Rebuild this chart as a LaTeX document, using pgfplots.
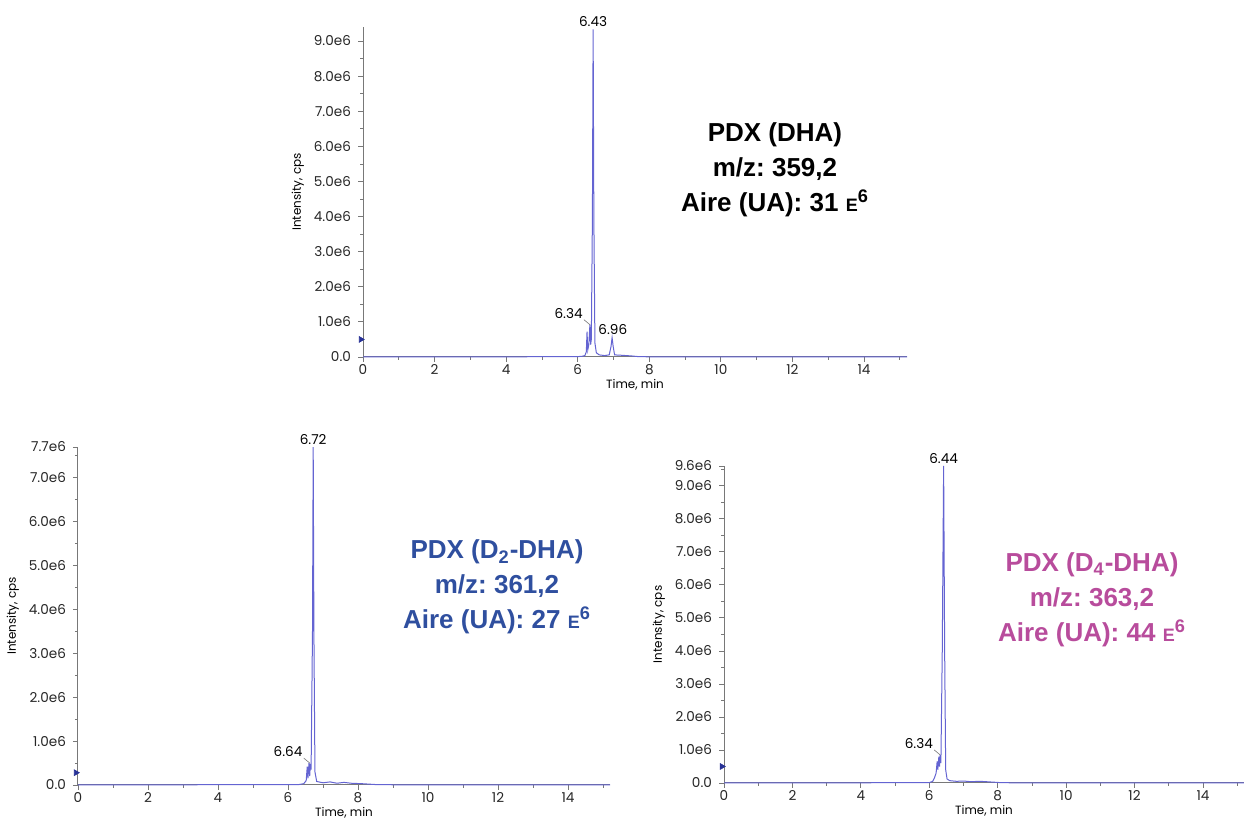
\documentclass[border=0pt]{standalone}
\usepackage{pgfplots}
\pgfplotsset{compat=1.18}
\usepackage{fontspec}
\setmainfont{Liberation Sans}
\newfontfamily\tickfont{Poppins}
\frenchspacing
\definecolor{trace}{RGB}{100,100,210}
\definecolor{axgray}{RGB}{120,120,120}
\definecolor{annblue}{RGB}{47,79,159}
\definecolor{annmag}{RGB}{184,76,156}
\definecolor{tri}{RGB}{40,50,150}

\pgfplotsset{chrom/.style={
  scale only axis, axis lines*=left, xmin=0, xmax=15.2, ymin=0,
  xtick={0,2,...,14}, minor xtick={1,3,...,15},
  tick align=outside, axis line style={axgray, line width=0.5pt},
  every tick/.style={axgray, line width=0.4pt}, major tick length=2.5pt, minor tick length=1.5pt,
  tick label style={font=\tickfont\fontsize{6.8}{8}\selectfont, black!85},
  xticklabel style={inner sep=1pt},
  /pgf/number format/assume math mode=true,
  xlabel style={font=\tickfont\fontsize{6}{7}\selectfont, at={(axis description cs:0.5,0)}, anchor=north, inner sep=0pt, yshift=-11pt},
  ylabel style={font=\tickfont\fontsize{6}{7}\selectfont, yshift=-2pt},
  xlabel={Time, min}, ylabel={Intensity, cps},
  clip=false,
}}
\newcommand{\pk}{\tickfont\fontsize{6.8}{8}\selectfont}

\begin{document}
\begin{tikzpicture}
\path[use as bounding box] (0pt,0pt) rectangle (622pt,411pt);

% ---------- top ----------
\begin{axis}[chrom, at={(181.5pt,232.5pt)}, anchor=south west, width=272pt, height=165pt,
  ymax=9.4, ytick={0,1,...,9}, minor ytick={0.5,1.5,...,9},
  yticklabels={0.0,1.0e6,2.0e6,3.0e6,4.0e6,5.0e6,6.0e6,7.0e6,8.0e6,9.0e6}]
\addplot[trace, line width=0.5pt] coordinates {
(0,0.005) (2,0.005) (4,0.006) (5.8,0.008) (6.1,0.015) (6.2,0.04) (6.24,0.15) (6.26,0.72) (6.28,0.2) (6.31,0.35) (6.34,0.92) (6.36,0.35) (6.38,0.5) (6.41,4.0) (6.43,9.33) (6.45,4.0) (6.48,0.4) (6.52,0.12) (6.6,0.06) (6.75,0.04) (6.88,0.06) (6.93,0.3) (6.96,0.55) (6.99,0.3) (7.03,0.06) (7.2,0.05) (7.35,0.04) (7.5,0.03) (7.7,0.01) (8,0.005) (10,0.005) (12,0.005) (15.2,0.005)};
\addplot[only marks, mark=triangle*, mark size=1.6pt, tri, mark options={rotate=-90}] coordinates {(-0.06,0.5)};
\node[anchor=south, inner sep=1pt, font=\pk] at (axis cs:6.43,9.33) {6.43};
\draw[axgray, line width=0.3pt] (axis cs:6.34,0.92) -- ++(-3pt,2.5pt) node[anchor=south east, inner sep=0.5pt, font=\pk, black] {6.34};
\node[anchor=south, inner sep=1.5pt, font=\pk] at (axis cs:6.98,0.55) {6.96};
\end{axis}
\node[align=center, font=\bfseries\fontsize{13}{17.5}\selectfont] at (387.5pt,326pt)
  {PDX (DHA)\\m/z: 359,2\\Aire (UA): 31 {\fontsize{9}{9}\selectfont E}\textsuperscript{6}};

% ---------- bottom left ----------
\begin{axis}[chrom, at={(39pt,18.5pt)}, anchor=south west, width=266pt, height=169pt,
  ymax=7.7, ytick={0,1,...,7,7.7}, minor ytick={0.5,1.5,...,7.5},
  yticklabels={0.0,1.0e6,2.0e6,3.0e6,4.0e6,5.0e6,6.0e6,7.0e6,7.7e6}]
\addplot[trace, line width=0.5pt] coordinates {
(0,0.005) (3,0.005) (6.3,0.008) (6.45,0.03) (6.52,0.1) (6.55,0.42) (6.57,0.15) (6.6,0.5) (6.62,0.2) (6.64,0.48) (6.66,0.35) (6.70,3.5) (6.72,7.7) (6.74,3.5) (6.77,0.3) (6.82,0.08) (7.0,0.05) (7.2,0.07) (7.4,0.04) (7.6,0.06) (7.8,0.04) (8.1,0.03) (8.5,0.01) (9,0.005) (15.2,0.005)};
\addplot[only marks, mark=triangle*, mark size=1.6pt, tri, mark options={rotate=-90}] coordinates {(-0.06,0.28)};
\node[anchor=south, inner sep=1pt, font=\pk] at (axis cs:6.72,7.7) {6.72};
\draw[axgray, line width=0.3pt] (axis cs:6.62,0.5) -- ++(-3pt,2.5pt) node[anchor=south east, inner sep=0.5pt, font=\pk, black] {6.64};
\end{axis}
\node[align=center, font=\bfseries\fontsize{13}{17.5}\selectfont, text=annblue] at (248.5pt,117.5pt)
  {PDX (D\textsubscript{2}-DHA)\\m/z: 361,2\\Aire (UA): 27 {\fontsize{9}{9}\selectfont E}\textsuperscript{6}};

% ---------- bottom right ----------
\begin{axis}[chrom, at={(362pt,19.5pt)}, anchor=south west, width=260pt, height=158.5pt,
  ymax=9.6, ytick={0,1,...,9,9.6}, minor ytick={0.5,1.5,...,9.5},
  yticklabels={0.0,1.0e6,2.0e6,3.0e6,4.0e6,5.0e6,6.0e6,7.0e6,8.0e6,9.0e6,9.6e6}]
\addplot[trace, line width=0.5pt] coordinates {
(0,0.005) (3,0.005) (6.0,0.01) (6.1,0.05) (6.15,0.15) (6.2,0.3) (6.23,0.65) (6.25,0.4) (6.28,0.8) (6.3,0.5) (6.32,0.85) (6.34,0.6) (6.38,4) (6.42,9.6) (6.45,4) (6.48,0.4) (6.52,0.12) (6.6,0.07) (6.8,0.05) (7.0,0.06) (7.2,0.04) (7.5,0.05) (7.8,0.03) (8.1,0.01) (8.5,0.005) (15.2,0.005)};
\addplot[only marks, mark=triangle*, mark size=1.6pt, tri, mark options={rotate=-90}] coordinates {(-0.06,0.5)};
\node[anchor=south, inner sep=1pt, font=\pk] at (axis cs:6.42,9.6) {6.44};
\draw[axgray, line width=0.3pt] (axis cs:6.32,0.85) -- ++(-3pt,2.5pt) node[anchor=south east, inner sep=0.5pt, font=\pk, black] {6.34};
\end{axis}
\node[align=center, font=\bfseries\fontsize{13}{17.5}\selectfont, text=annmag] at (546pt,111pt)
  {PDX (D\textsubscript{4}-DHA)\\m/z: 363,2\\Aire (UA): 44 {\fontsize{9}{9}\selectfont E}\textsuperscript{6}};
\end{tikzpicture}
\end{document}
